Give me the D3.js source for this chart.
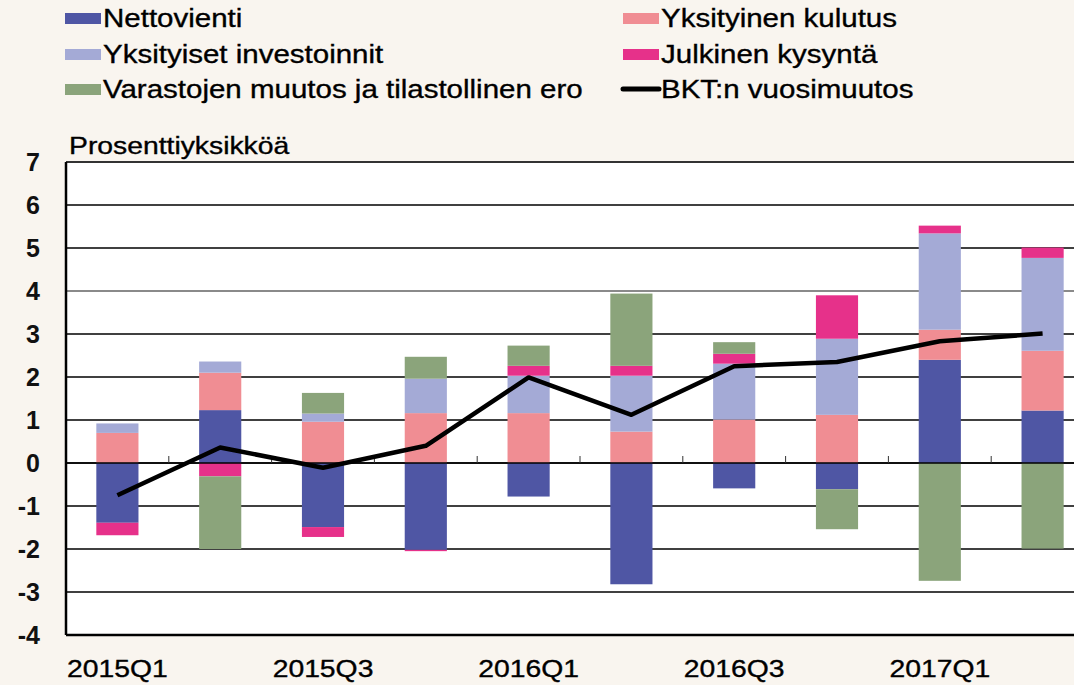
<!DOCTYPE html>
<html>
<head>
<meta charset="utf-8">
<script src="https://cdn.jsdelivr.net/npm/d3@7"></script>
<style>
  body { margin: 0; background: #f9f5ef; }
  svg { display: block; font-family: "Liberation Sans", Arial, sans-serif; }
</style>
</head>
<body>
<svg id="chart" width="1074" height="685"></svg>
<script>
const quarters = ["2015Q1", "2015Q2", "2015Q3", "2015Q4", "2016Q1", "2016Q2", "2016Q3", "2016Q4", "2017Q1", "2017Q2"];
const tickQuarters = ["2015Q1", "2015Q3", "2016Q1", "2016Q3", "2017Q1"];

const nettovienti = [-1.39, 1.23, -1.49, -2.02, -0.78, -2.82, -0.59, -0.61, 2.40, 1.22];
const kulutus     = [0.70, 0.87, 0.96, 1.16, 1.16, 0.73, 1.01, 1.12, 0.70, 1.39];
const investoinnit = [0.22, 0.26, 0.19, 0.80, 0.87, 1.30, 1.30, 1.77, 2.24, 2.16];
const julkinen    = [-0.29, -0.31, -0.23, -0.03, 0.23, 0.23, 0.23, 1.01, 0.18, 0.24];
const varastot    = [0.0, -1.69, 0.48, 0.51, 0.47, 1.68, 0.27, -0.93, -2.74, -1.99];
const bkt         = [-0.75, 0.36, -0.11, 0.40, 1.99, 1.12, 2.25, 2.35, 2.83, 3.01];

const series = [
  { key: "net", name: "Nettovienti", color: "#4f56a4", values: nettovienti },
  { key: "cons", name: "Yksityinen kulutus", color: "#f08d93", values: kulutus },
  { key: "inv", name: "Yksityiset investoinnit", color: "#a4aad6", values: investoinnit },
  { key: "pub", name: "Julkinen kysyntä", color: "#e6318a", values: julkinen },
  { key: "inventory", name: "Varastojen muutos ja tilastollinen ero", color: "#8ba47b", values: varastot }
];

const svg = d3.select("#chart");
const plotLeft = 66, plotRight = 1094, plotTop = 162, plotBottom = 635;
const stretch = 1.18; // source text is a little wider than Liberation Sans

const x = d3.scaleBand().domain(quarters).range([plotLeft, plotRight]).paddingInner(0.59).paddingOuter(0.295);
const y = d3.scaleLinear().domain([-4, 7]).range([plotBottom, plotTop]);

function label(parent, tx, ty, str, size, anchor) {
  return parent.append("text")
    .attr("transform", `translate(${tx},${ty}) scale(${stretch},1)`)
    .attr("text-anchor", anchor || "start")
    .attr("font-size", size)
    .attr("fill", "#000")
    .attr("stroke", "#000")
    .attr("stroke-width", 0.35)
    .text(str);
}

// plot background
svg.append("rect")
  .attr("x", plotLeft).attr("y", plotTop)
  .attr("width", 1074 - plotLeft).attr("height", plotBottom - plotTop)
  .attr("fill", "#fff");

// gridlines
svg.append("g")
  .selectAll("line")
  .data(d3.range(-3, 7))
  .join("line")
  .attr("x1", plotLeft).attr("x2", 1074)
  .attr("y1", d => y(d)).attr("y2", d => y(d))
  .attr("stroke", d => d === 4 ? "#8a8a8a" : "#000")
  .attr("stroke-width", d => d === 4 ? 2 : 1.5);

// stacked bars
const rows = quarters.map((q, i) => {
  const r = { q };
  series.forEach(s => r[s.key] = s.values[i]);
  return r;
});
const stack = d3.stack().keys(series.map(s => s.key)).offset(d3.stackOffsetDiverging);
const layers = stack(rows);

svg.append("g")
  .selectAll("g")
  .data(layers)
  .join("g")
  .attr("fill", (d, i) => series[i].color)
  .selectAll("rect")
  .data(d => d)
  .join("rect")
  .attr("x", d => x(d.data.q))
  .attr("width", x.bandwidth())
  .attr("y", d => y(Math.max(d[0], d[1])))
  .attr("height", d => Math.abs(y(d[0]) - y(d[1])));

// zero line + small category ticks
svg.append("line")
  .attr("x1", plotLeft).attr("x2", 1074)
  .attr("y1", y(0)).attr("y2", y(0))
  .attr("stroke", "#000").attr("stroke-width", 1.5);

svg.append("g")
  .selectAll("line")
  .data(quarters.slice(1))
  .join("line")
  .attr("x1", d => x(d) - x.step() * x.paddingInner() / 2)
  .attr("x2", d => x(d) - x.step() * x.paddingInner() / 2)
  .attr("y1", y(0)).attr("y2", y(0) - 7)
  .attr("stroke", "#333").attr("stroke-width", 1);

// GDP line
const line = d3.line()
  .x((d, i) => x(quarters[i]) + x.bandwidth() / 2)
  .y(d => y(d));
svg.append("path")
  .datum(bkt)
  .attr("d", line)
  .attr("fill", "none")
  .attr("stroke", "#000")
  .attr("stroke-width", 4.5)
  .attr("stroke-linejoin", "round");

// frame
svg.append("line")
  .attr("x1", plotLeft).attr("x2", 1074).attr("y1", plotTop).attr("y2", plotTop)
  .attr("stroke", "#333").attr("stroke-width", 2);
svg.append("line")
  .attr("x1", plotLeft).attr("x2", 1074).attr("y1", plotBottom).attr("y2", plotBottom)
  .attr("stroke", "#000").attr("stroke-width", 2.5);
svg.append("line")
  .attr("x1", plotLeft).attr("x2", plotLeft).attr("y1", plotTop).attr("y2", plotBottom)
  .attr("stroke", "#000").attr("stroke-width", 2.5);

// y tick labels
svg.append("g")
  .selectAll("text")
  .data(d3.range(-4, 8))
  .join("text")
  .attr("x", 40)
  .attr("y", d => y(d))
  .attr("dy", "0.36em")
  .attr("text-anchor", "end")
  .attr("font-size", 25)
  .attr("font-weight", "bold")
  .attr("fill", "#111")
  .text(d => d);

// x tick labels
const xl = svg.append("g");
tickQuarters.forEach(q => label(xl, x(q) + x.bandwidth() / 2, 677, q, 24, "middle"));

label(svg, 69, 154, "Prosenttiyksikköä", 24);

// legend
const legendItems = [
  { s: series[0], col: 0, row: 0 },
  { s: series[2], col: 0, row: 1 },
  { s: series[4], col: 0, row: 2 },
  { s: series[1], col: 1, row: 0 },
  { s: series[3], col: 1, row: 1 }
];
const colX = [65, 623];
const rowY = [18, 54, 89];
const lg = svg.append("g");
legendItems.forEach(it => {
  lg.append("rect")
    .attr("x", colX[it.col]).attr("y", rowY[it.row] - 5)
    .attr("width", 36).attr("height", 11)
    .attr("fill", it.s.color);
  label(lg, colX[it.col] + 38, rowY[it.row] + 9, it.s.name, 25);
});
lg.append("line")
  .attr("x1", colX[1]).attr("x2", colX[1] + 36)
  .attr("y1", rowY[2]).attr("y2", rowY[2])
  .attr("stroke", "#000").attr("stroke-width", 5)
  .attr("stroke-linecap", "round");
label(lg, colX[1] + 38, rowY[2] + 9, "BKT:n vuosimuutos", 25);
</script>
</body>
</html>
